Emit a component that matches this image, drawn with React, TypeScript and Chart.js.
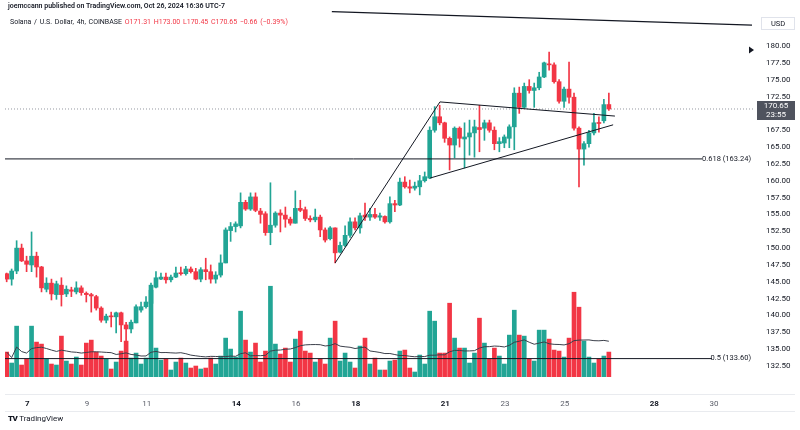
import React, { useEffect, useRef } from "react";
import { Chart, registerables } from "chart.js";

Chart.register(...registerables);

const FONT = "Roboto, 'Liberation Sans', Arial, sans-serif";

// 4h candles, SOL/USD Coinbase, Oct 6 - Oct 26 2024 (time in days of October)
const firstCandleDay = 6.31;
const candleStepDays = 1 / 6;

const opens = [
  146.2, 145.4, 146.6, 150.0, 148.1, 147.5, 148.8, 147.2, 143.9, 144.8, 143.1, 144.5, 143.2, 143.8, 143.5, 144.1, 143.3, 143.1, 142.8,
  141.1, 139.3, 139.9, 139.8, 140.4, 138.6, 138.0, 138.9, 140.8, 141.3, 141.8, 144.2, 145.4, 145.7, 145.3, 145.7, 146.3, 146.2, 146.9, 146.5, 145.4,
  146.8, 146.5, 145.4, 146.0, 147.8, 152.6, 153.2, 153.3, 156.8, 155.8, 157.6, 155.5, 155.1, 152.3, 153.4, 155.2, 154.9, 154.3, 153.7, 155.9,
  155.7, 154.4, 154.2, 154.6, 152.7, 151.4, 153.0, 149.4, 150.4, 151.9, 153.9, 153.0, 154.9, 154.6, 155.0, 154.6, 154.7, 153.9, 156.6, 156.4,
  159.8, 159.1, 158.9, 159.1, 160.0, 160.4, 167.5, 169.5, 168.6, 166.3, 165.3, 167.8, 166.2, 166.5, 167.1, 167.9, 167.8, 168.6, 167.5, 165.5,
  165.6, 166.3, 168.0, 173.0, 170.9, 174.0, 173.4, 173.8, 175.4, 177.3, 177.2, 174.7, 171.8, 173.6, 172.4, 167.8, 164.7, 165.5, 167.1, 168.6, 168.9, 171.31,
];
const highs = [
  146.3, 146.9, 151.1, 150.6, 148.8, 152.4, 149.4, 147.3, 145.6, 145.4, 145.1, 145.6, 144.4, 144.2, 145.0, 144.4, 143.5, 143.3, 143.0,
  141.3, 140.2, 140.5, 140.5, 140.5, 139.0, 139.3, 141.6, 142.0, 142.8, 144.8, 146.5, 146.3, 146.3, 146.0, 147.2, 147.2, 147.3, 147.2, 147.0, 147.1,
  148.5, 147.5, 146.5, 149.0, 153.0, 153.8, 153.9, 158.2, 157.1, 158.2, 158.2, 155.9, 155.4, 159.7, 155.4, 155.7, 156.1, 154.6, 158.5, 157.1,
  156.1, 154.8, 155.8, 154.9, 153.0, 153.2, 153.0, 150.9, 153.3, 154.5, 154.5, 155.2, 156.7, 155.9, 155.9, 155.2, 154.8, 157.6, 157.1, 160.4,
  160.6, 160.1, 159.8, 160.8, 161.3, 168.0, 171.0, 171.2, 168.7, 166.5, 168.0, 168.0, 168.6, 169.0, 169.0, 171.2, 169.0, 169.0, 168.0, 166.4,
  166.8, 168.3, 173.8, 173.9, 174.5, 175.0, 174.5, 176.1, 177.6, 179.1, 177.5, 175.0, 173.9, 177.6, 173.0, 168.0, 165.8, 167.5, 170.0, 169.5, 172.1, 173.0,
];
const lows = [
  145.0, 144.5, 146.2, 148.0, 146.5, 146.5, 145.7, 143.5, 143.5, 142.3, 142.4, 141.4, 142.8, 142.8, 143.2, 143.0, 142.0, 140.5, 140.8,
  139.0, 138.9, 138.3, 137.4, 136.1, 135.3, 137.4, 138.9, 140.5, 141.1, 141.1, 144.1, 145.3, 144.8, 145.0, 145.6, 146.0, 146.0, 146.3, 145.3, 145.0,
  145.3, 144.8, 144.8, 145.7, 147.8, 151.0, 152.4, 153.0, 155.6, 155.6, 155.4, 153.7, 151.9, 150.5, 153.1, 152.4, 153.1, 153.4, 153.7, 155.4,
  154.1, 153.9, 153.9, 151.7, 150.9, 151.2, 147.8, 149.3, 150.2, 151.6, 152.7, 152.2, 154.1, 154.1, 154.4, 154.1, 153.7, 153.7, 155.4, 156.3,
  158.9, 158.2, 158.6, 157.9, 159.8, 160.3, 167.2, 168.3, 165.7, 161.6, 163.4, 165.0, 161.9, 163.8, 163.5, 164.3, 166.0, 167.2, 164.6, 164.3,
  164.9, 164.9, 164.6, 170.0, 170.8, 173.0, 170.9, 173.5, 175.3, 176.4, 174.5, 171.5, 170.9, 171.5, 167.5, 159.1, 162.3, 165.0, 166.8, 167.2, 168.6, 170.45,
];
const closes = [
  145.4, 146.6, 150.0, 148.1, 147.6, 148.8, 147.2, 144.1, 144.8, 143.2, 144.7, 143.1, 143.9, 143.6, 144.1, 143.4, 143.1, 142.9, 141.1,
  139.3, 139.9, 139.8, 140.4, 138.6, 138.0, 139.0, 141.3, 141.3, 142.0, 144.5, 145.6, 145.7, 145.3, 145.7, 146.3, 146.2, 146.9, 146.5, 145.4, 146.8,
  146.5, 145.4, 146.0, 147.8, 152.7, 153.2, 153.6, 156.8, 155.8, 157.6, 155.6, 155.0, 152.3, 153.4, 155.2, 154.9, 154.3, 153.7, 155.9, 155.6,
  154.4, 154.2, 154.6, 152.7, 151.2, 153.0, 149.3, 150.4, 151.9, 153.9, 153.0, 154.8, 154.6, 155.0, 154.6, 154.8, 153.9, 156.6, 156.4, 159.8,
  159.1, 158.9, 159.2, 160.0, 160.6, 167.5, 169.5, 168.6, 166.3, 165.3, 167.8, 166.3, 166.5, 167.1, 168.0, 167.6, 168.6, 167.5, 165.5, 165.8,
  166.5, 168.0, 173.0, 170.9, 174.0, 173.4, 173.8, 175.4, 177.5, 177.2, 174.7, 171.8, 173.6, 172.4, 167.8, 164.7, 165.5, 167.1, 168.6, 168.5, 171.3, 170.65,
];
// volume, thousands of SOL
const volumes = [
  100, 56, 204, 48, 72, 204, 140, 132, 72, 52, 48, 164, 64, 52, 80, 48, 136, 148, 100,
  84, 72, 32, 60, 104, 144, 76, 96, 52, 76, 348, 116, 68, 72, 28, 60, 76, 56, 36, 44, 32,
  36, 76, 52, 84, 156, 112, 80, 264, 148, 100, 136, 60, 104, 364, 132, 92, 116, 60, 152, 184,
  104, 96, 60, 72, 52, 156, 224, 64, 96, 60, 36, 124, 156, 52, 76, 28, 28, 64, 68, 104,
  108, 36, 20, 88, 52, 264, 224, 96, 96, 296, 156, 116, 116, 56, 96, 236, 136, 72, 116, 84,
  52, 168, 268, 168, 164, 72, 64, 188, 188, 152, 108, 104, 80, 156, 340, 280, 144, 80, 56, 72, 84, 100,
];
const volumeMaLength = 20;

const priceTicks = [132.5, 135, 137.5, 140, 142.5, 145, 147.5, 150, 152.5, 155, 157.5, 160, 162.5, 165, 167.5, 170, 172.5, 175, 177.5, 180];
const dayTicks = [7, 9, 11, 14, 16, 18, 21, 23, 25, 28, 30];
const boldDays = [7, 14, 18, 21, 28];

const fibRatios = ["0.618", "0.5"];
const fibPrices = [163.24, 133.6];
const fibLineEndDays = [29.6, 29.93];

// drawings: [day, price] pairs
const trendRise = [[17.31, 147.8], [20.82, 171.7]];
const trendUpper = [[20.82, 171.7], [26.68, 169.6]];
const trendLower = [[20.49, 160.4], [26.62, 168.3]];
const trendTop = [[17.2, 185.1], [31.27, 183.1]];
const markerPrice = 179.4;

const countdownLabel = "23:55";
const xMinDay = 6.254;
const xMaxDay = 31.371;
const priceMin = 130.87;
const priceMax = 185.64;
const volumeMax = 1480;

const UP = "#22a595";
const DOWN = "#f23645";
const INK = "#131722";

const times = opens.map((_, i) => firstCandleDay + i * candleStepDays);
const isUp = (i: number) => closes[i] >= opens[i];
const volumeMa = volumes.map((_, i) => {
  const s = Math.max(0, i - volumeMaLength + 1);
  const win = volumes.slice(s, i + 1);
  return win.reduce((a, b) => a + b, 0) / win.length;
});

const toPts = (arr: number[][]) => arr.map(([x, y]) => ({ x, y }));

const overlayPlugin = {
  id: "overlay",
  afterDraw(chart: any) {
    const ctx = chart.ctx as CanvasRenderingContext2D;
    const ys = chart.scales.y;
    const area = chart.chartArea;
    ctx.save();
    // fib labels
    ctx.font = `7.5px ${FONT}`;
    ctx.fillStyle = INK;
    ctx.textAlign = "right";
    ctx.textBaseline = "middle";
    fibPrices.forEach((p, k) => {
      ctx.fillText(`${fibRatios[k]} (${p.toFixed(2)})`, area.right - 4, ys.getPixelForValue(p));
    });
    // separators of the time axis
    ctx.strokeStyle = "#e9ebef";
    ctx.lineWidth = 1;
    [394.5, 411.5].forEach((yy) => {
      ctx.beginPath();
      ctx.moveTo(5, yy);
      ctx.lineTo(795, yy);
      ctx.stroke();
    });
    // USD box
    ctx.fillStyle = "#ffffff";
    ctx.fillRect(761, 17, 34, 13);
    ctx.strokeStyle = "#e0e3eb";
    ctx.strokeRect(761.5, 17.5, 33, 12);
    ctx.fillStyle = INK;
    ctx.textAlign = "center";
    ctx.font = `7.5px ${FONT}`;
    ctx.fillText("USD", 778, 24);
    // last price box
    const last = closes.length - 1;
    const yp = ys.getPixelForValue(closes[last]);
    ctx.fillStyle = "#4f535e";
    ctx.fillRect(757, Math.round(yp) - 8, 38, 19);
    ctx.fillStyle = "#ffffff";
    ctx.font = `8px ${FONT}`;
    ctx.fillText(closes[last].toFixed(2), 776, yp - 3);
    ctx.fillText(countdownLabel, 776, yp + 6.5);
    // marker triangle
    const my = ys.getPixelForValue(markerPrice);
    const mx = area.right - 3;
    ctx.fillStyle = INK;
    ctx.beginPath();
    ctx.moveTo(mx - 3, my - 3.5);
    ctx.lineTo(mx + 2, my);
    ctx.lineTo(mx - 3, my + 3.5);
    ctx.closePath();
    ctx.fill();
    ctx.restore();
  },
};

export default function App() {
  const ref = useRef<HTMLCanvasElement>(null);
  useEffect(() => {
    if (!ref.current) return;
    Chart.defaults.font.family = FONT;
    const lineDs = (data: any[], extra: any = {}) => ({
      type: "line",
      data,
      yAxisID: "y",
      borderColor: INK,
      borderWidth: 1,
      pointRadius: 0,
      fill: false,
      order: 0,
      ...extra,
    });
    const chart = new Chart(ref.current, {
      type: "bar",
      data: {
        datasets: [
          {
            type: "bar",
            label: "Volume",
            data: times.map((t, i) => ({ x: t, y: volumes[i] })),
            yAxisID: "yv",
            backgroundColor: times.map((_, i) => (isUp(i) ? UP : DOWN)),
            barThickness: 4,
            grouped: false,
            borderWidth: 0,
            order: 10,
          },
          lineDs(
            times.map((t, i) => ({ x: t, y: volumeMa[i] })),
            { yAxisID: "yv", borderColor: "#3b3f4a", order: 9 }
          ),
          {
            type: "bar",
            label: "Wicks",
            data: times.map((t, i) => ({ x: t, y: [lows[i], highs[i]] })),
            yAxisID: "y",
            backgroundColor: times.map((_, i) => (isUp(i) ? UP : DOWN)),
            barThickness: 1,
            grouped: false,
            borderWidth: 0,
            order: 3,
          },
          {
            type: "bar",
            label: "Bodies",
            data: times.map((t, i) => ({ x: t, y: [opens[i], closes[i]] })),
            yAxisID: "y",
            backgroundColor: times.map((_, i) => (isUp(i) ? UP : DOWN)),
            barThickness: 4,
            minBarLength: 1,
            grouped: false,
            borderWidth: 0,
            order: 2,
          },
          lineDs(
            [
              { x: xMinDay, y: closes[closes.length - 1] },
              { x: xMaxDay, y: closes[closes.length - 1] },
            ],
            { borderColor: "#9598a1", borderDash: [1, 2], order: 5 }
          ),
          ...fibPrices.map((p, k) =>
            lineDs([
              { x: xMinDay, y: p },
              { x: fibLineEndDays[k], y: p },
            ])
          ),
          lineDs(toPts(trendRise)),
          lineDs(toPts(trendUpper)),
          lineDs(toPts(trendLower)),
          lineDs(toPts(trendTop), { borderWidth: 1.2 }),
        ] as any,
      },
      options: {
        responsive: false,
        animation: false,
        devicePixelRatio: 1,
        layout: { padding: { left: 5, top: 8, right: 0, bottom: 0 } },
        plugins: { legend: { display: false }, tooltip: { enabled: false } },
        scales: {
          x: {
            type: "linear",
            min: xMinDay,
            max: xMaxDay,
            offset: false,
            grid: { display: false, drawTicks: false },
            border: { display: false },
            afterBuildTicks: (axis: any) => {
              axis.ticks = dayTicks.map((v) => ({ value: v }));
            },
            afterFit: (axis: any) => {
              axis.height = 53;
              axis.paddingLeft = 0;
              axis.paddingRight = 0;
            },
            ticks: {
              autoSkip: false,
              maxRotation: 0,
              padding: 22.5,
              callback: (v: any) => String(v),
              color: (c: any) => (boldDays.includes(c.tick?.value) ? INK : "#5d606b"),
              font: (c: any) => ({
                size: 8,
                family: FONT,
                weight: boldDays.includes(c.tick?.value) ? "bold" : "normal",
              }),
            },
          },
          y: {
            type: "linear",
            position: "right",
            min: priceMin,
            max: priceMax,
            grid: { display: false, drawTicks: false },
            border: { display: false },
            afterBuildTicks: (axis: any) => {
              axis.ticks = priceTicks.map((v) => ({ value: v }));
            },
            afterFit: (axis: any) => {
              axis.width = 45;
              axis.paddingTop = 0;
              axis.paddingBottom = 0;
            },
            ticks: {
              padding: 11,
              color: INK,
              font: { size: 8, family: FONT },
              callback: (v: any) => Number(v).toFixed(2),
            },
          },
          yv: {
            type: "linear",
            display: false,
            min: 0,
            max: volumeMax,
          },
        },
      } as any,
      plugins: [overlayPlugin],
    });
    return () => chart.destroy();
  }, []);

  return (
    <div
      style={{
        position: "fixed",
        left: 0,
        top: 0,
        width: 800,
        height: 430,
        background: "#ffffff",
        overflow: "hidden",
        fontFamily: FONT,
      }}
    >
      <canvas ref={ref} width={800} height={430} style={{ position: "absolute", left: 0, top: 0 }} />
      <div style={{ position: "absolute", left: 8, top: 2, fontSize: 7, fontWeight: 600, color: INK, whiteSpace: "nowrap" }}>
        joemccann published on TradingView.com, Oct 26, 2024 16:36 UTC-7
      </div>
      <div style={{ position: "absolute", left: 10, top: 18, fontSize: 7, color: INK, whiteSpace: "nowrap", wordSpacing: 1 }}>
        Solana / U.S. Dollar, 4h, COINBASE{" "}
        <span style={{ color: DOWN }}>O171.31 H173.00 L170.45 C170.65 −0.66 (−0.39%)</span>
      </div>
      <div style={{ position: "absolute", left: 8, top: 414, fontSize: 8, color: INK, whiteSpace: "nowrap" }}>
        <span style={{ fontWeight: 900, letterSpacing: -0.5 }}>TV</span> TradingView
      </div>
    </div>
  );
}
